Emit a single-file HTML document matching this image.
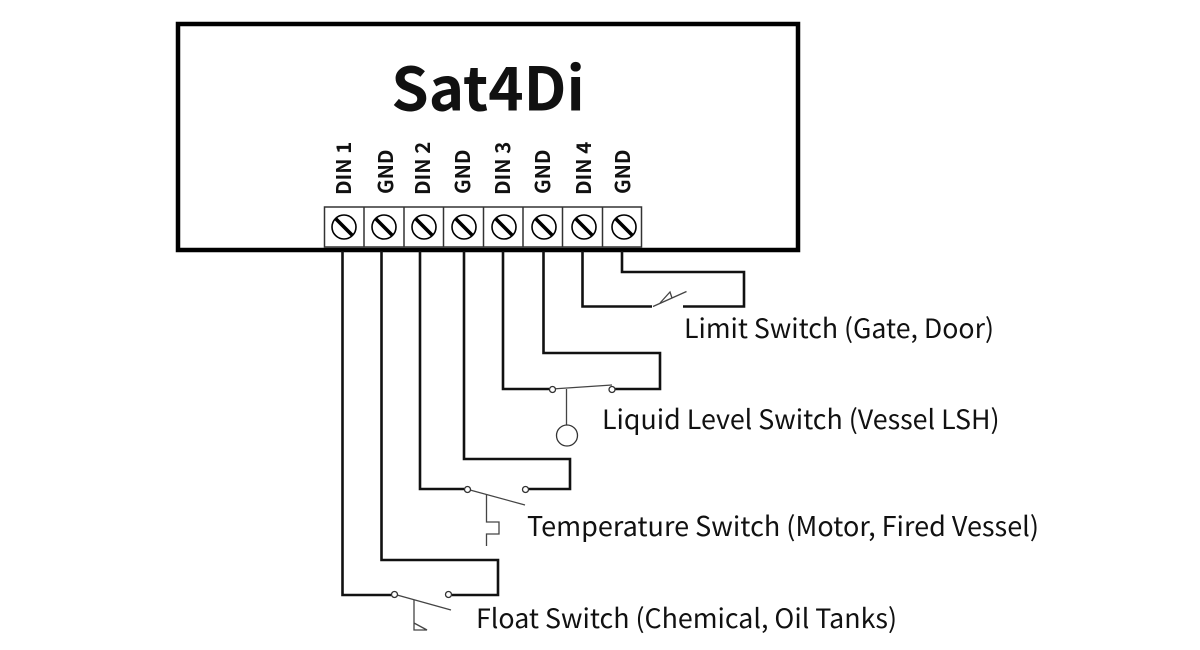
<!DOCTYPE html>
<html>
<head>
<meta charset="utf-8">
<style>
html,body{margin:0;padding:0;background:#fff;width:1200px;height:650px;overflow:hidden}
svg{display:block}
text{font-family:"Noto Sans CJK JP","Liberation Sans",sans-serif;fill:#111}
.w{fill:none;stroke:#111;stroke-width:2.6}
.t{fill:none;stroke:#444;stroke-width:1.3}
.c{fill:#fff;stroke:#333;stroke-width:1.3}
.lab{font-size:26.8px}
.pin{font-size:20.4px;font-weight:700}
</style>
</head>
<body>
<svg width="1200" height="650" viewBox="0 0 1200 650" xmlns="http://www.w3.org/2000/svg">
<rect x="178" y="24" width="620" height="226" fill="#fff" stroke="#000" stroke-width="4.500"/>
<text x="488" y="110.500" text-anchor="middle" font-size="60" font-weight="700" fill="#000">Sat4Di</text>

<g class="pin">
<text transform="translate(351,195) rotate(-90)">DIN 1</text>
<text transform="translate(393,194) rotate(-90)">GND</text>
<text transform="translate(430,195) rotate(-90)">DIN 2</text>
<text transform="translate(470,194) rotate(-90)">GND</text>
<text transform="translate(510,195) rotate(-90)">DIN 3</text>
<text transform="translate(550,194) rotate(-90)">GND</text>
<text transform="translate(591,195) rotate(-90)">DIN 4</text>
<text transform="translate(630,194) rotate(-90)">GND</text>
</g>

<rect x="324.500" y="207" width="317" height="40" fill="#fff" stroke="#333" stroke-width="1.500"/>
<g stroke="#333" stroke-width="1.500">
<line x1="364" y1="207" x2="364" y2="247"/>
<line x1="404" y1="207" x2="404" y2="247"/>
<line x1="443.500" y1="207" x2="443.500" y2="247"/>
<line x1="483.500" y1="207" x2="483.500" y2="247"/>
<line x1="523" y1="207" x2="523" y2="247"/>
<line x1="562.500" y1="207" x2="562.500" y2="247"/>
<line x1="602.500" y1="207" x2="602.500" y2="247"/>
</g>
<g fill="#fff" stroke="#000" stroke-width="1.600">
<circle cx="344" cy="227" r="12"/>
<circle cx="384" cy="227" r="12"/>
<circle cx="424" cy="227" r="12"/>
<circle cx="464" cy="227" r="12"/>
<circle cx="504" cy="227" r="12"/>
<circle cx="544" cy="227" r="12"/>
<circle cx="584" cy="227" r="12"/>
<circle cx="624" cy="227" r="12"/>
</g>
<g stroke="#000" stroke-width="3.600">
<line x1="336" y1="219" x2="352" y2="235"/>
<line x1="376" y1="219" x2="392" y2="235"/>
<line x1="416" y1="219" x2="432" y2="235"/>
<line x1="456" y1="219" x2="472" y2="235"/>
<line x1="496" y1="219" x2="512" y2="235"/>
<line x1="536" y1="219" x2="552" y2="235"/>
<line x1="576" y1="219" x2="592" y2="235"/>
<line x1="616" y1="219" x2="632" y2="235"/>
</g>

<!-- Limit switch -->
<polyline class="w" points="582.500,251 582.500,306.500 652,306.500"/>
<polyline class="w" points="622,251 622,272 744,272 744,306.500 683,306.500"/>
<polyline class="t" points="653,306.500 686.500,291.500"/>
<polyline class="t" points="660,303 670,292 672,298"/>

<!-- Liquid level -->
<polyline class="w" points="503,251 503,389 549,389"/>
<polyline class="w" points="543.500,251 543.500,353 660,353 660,389 615,389"/>
<line class="t" x1="552" y1="389" x2="612" y2="385"/>
<line class="t" x1="566.500" y1="389" x2="566.500" y2="425"/>
<circle class="c" cx="567" cy="435.500" r="10.500"/>
<circle class="c" cx="552.500" cy="389.500" r="3"/>
<circle class="c" cx="612" cy="389.500" r="3"/>

<!-- Temperature -->
<polyline class="w" points="420,251 420,489 464,489"/>
<polyline class="w" points="464,251 464,459 570,459 570,489 528,489"/>
<line class="t" x1="470" y1="490" x2="525" y2="505"/>
<polyline class="t" points="486.500,494 486.500,522 499,522 499,534 486.500,534 486.500,546"/>
<circle class="c" cx="467.500" cy="489.500" r="3"/>
<circle class="c" cx="525.500" cy="489.500" r="3"/>

<!-- Float -->
<polyline class="w" points="342.500,251 342.500,595 391,595"/>
<polyline class="w" points="381.500,251 381.500,560 498,560 498,595 452,595"/>
<line class="t" x1="397" y1="595" x2="451" y2="610"/>
<polyline class="t" points="414,600 414,630 427,630 414,623"/>
<circle class="c" cx="394.500" cy="594.500" r="3"/>
<circle class="c" cx="448.500" cy="594.500" r="3"/>

<g class="lab">
<text x="684" y="338" font-size="26.7">Limit Switch (Gate, Door)</text>
<text x="602" y="429">Liquid Level Switch (Vessel LSH)</text>
<text x="527" y="536" style="font-size:27px">Temperature Switch (Motor, Fired Vessel)</text>
<text x="476" y="628">Float Switch (Chemical, Oil Tanks)</text>
</g>
</svg>
</body>
</html>
